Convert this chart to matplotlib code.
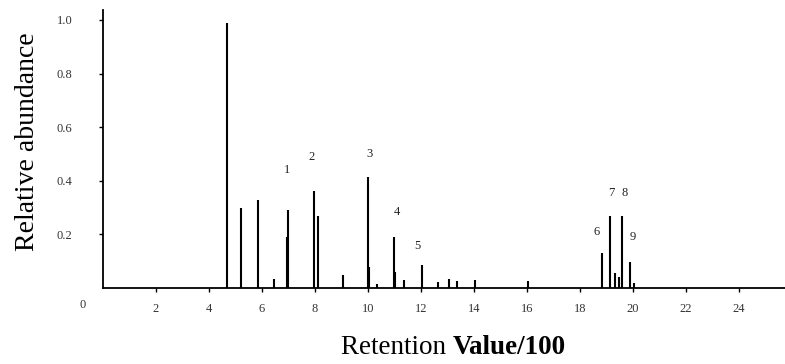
import matplotlib
matplotlib.use("Agg")
import matplotlib.pyplot as plt

# Peak positions (retention value / 100) and relative abundances
peak_x = [4.67, 5.20, 5.86, 6.45, 6.93, 6.98, 7.97, 8.11, 9.04, 9.98, 10.05,
          10.35, 10.97, 11.03, 11.35, 12.02, 12.64, 13.07, 13.36, 14.03, 16.03,
          18.84, 19.12, 19.32, 19.47, 19.58, 19.87, 20.03]
peak_y = [0.99, 0.30, 0.33, 0.035, 0.19, 0.29, 0.36, 0.27, 0.05, 0.415, 0.08,
          0.015, 0.19, 0.06, 0.028, 0.087, 0.024, 0.034, 0.027, 0.029, 0.025,
          0.13, 0.27, 0.055, 0.04, 0.27, 0.098, 0.02]

label_text = ["1", "2", "3", "4", "5", "6", "7", "8", "9"]
label_x = [6.96, 7.85, 10.05, 11.07, 11.86, 18.62, 19.19, 19.68, 19.98]
label_y = [0.44, 0.49, 0.50, 0.285, 0.155, 0.21, 0.355, 0.355, 0.19]

xtick_vals = [2, 4, 6, 8, 10, 12, 14, 16, 18, 20, 22, 24]
ytick_vals = [0.2, 0.4, 0.6, 0.8, 1.0]
ytick_labels = ["0.2", "0.4", "0.6", "0.8", "1.0"]

plt.rcParams['font.family'] = ['Liberation Serif', 'DejaVu Serif']

fig = plt.figure(figsize=(7.85, 3.64), dpi=100)
ax = fig.add_axes([0.1312, 0.2088, 0.8688, 0.7637])

ax.vlines(peak_x, 0, peak_y, colors='black', linewidth=1.5)

for t, x, y in zip(label_text, label_x, label_y):
    ax.text(x, y, t, ha='center', va='center', fontsize=9, color='#222222')

ax.set_xlim(0, 25.73)
ax.set_ylim(0, 1.037)

ax.set_xticks(xtick_vals)
ax.set_xticklabels([str(v) for v in xtick_vals], fontsize=9, color='#333333')
ax.set_yticks(ytick_vals)
ax.set_yticklabels(ytick_labels, fontsize=9, color='#333333')
ax.tick_params(axis='x', direction='out', length=3, width=1, pad=8)
ax.tick_params(axis='y', direction='out', length=3, width=1, pad=19)

ax.text(-0.75, -0.062, "0", ha='center', va='center', fontsize=9, color='#333333',
        clip_on=False)

for s in ['top', 'right']:
    ax.spines[s].set_visible(False)
ax.spines['left'].set_linewidth(1.3)
ax.spines['bottom'].set_linewidth(1.3)

fig.text(0.035, 0.611, "Relative abundance", rotation=90, ha='center', va='center',
         fontsize=20)
fig.text(0.577, 0.045, "Retention ", ha='right', va='center', fontsize=19.5)
fig.text(0.577, 0.045, "Value/100", ha='left', va='center', fontsize=19.5,
         fontweight='bold')

fig.savefig("out.png", dpi=100)
